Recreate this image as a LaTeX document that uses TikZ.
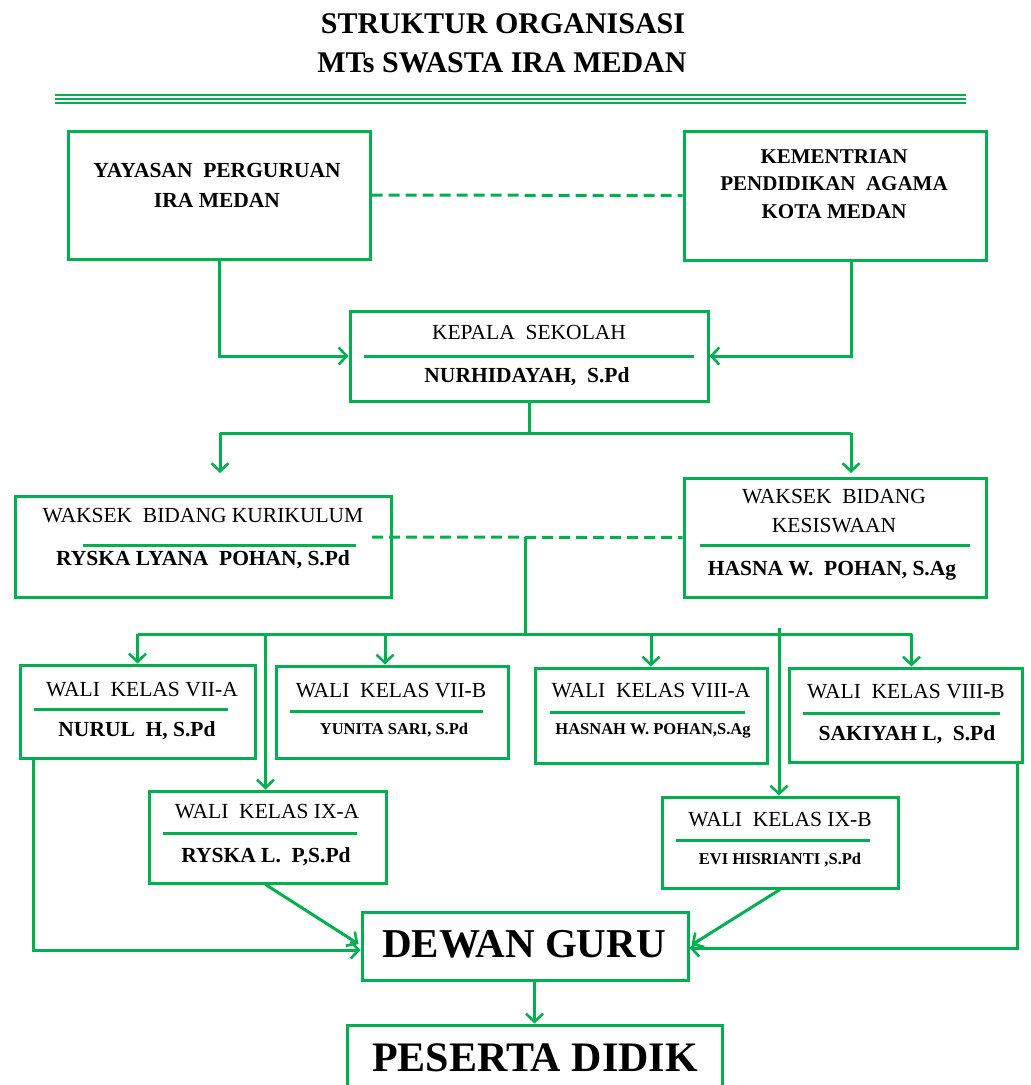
\documentclass[tikz,border=0pt]{standalone}
\usepackage{fontspec}
\setmainfont{Liberation Serif}
\usetikzlibrary{arrows.meta,calc}
\definecolor{g}{HTML}{00B050}
\begin{document}
\begin{tikzpicture}[x=1pt,y=-1pt,
  box/.style={draw=g,line width=3pt,inner sep=0pt,rectangle},
  conn/.style={draw=g,line width=3pt},
  arr/.style={conn,-{Straight Barb[length=8pt,width=17pt,line width=2.6pt]}},
  dashline/.style={conn,dash pattern=on 11pt off 6pt},
  divider/.style={draw=g,line width=3pt},
  ttl/.style={font=\bfseries\fontsize{30}{40}\selectfont,inner sep=0pt},
  rt/.style={font=\fontsize{21.5}{28}\selectfont,inner sep=0pt,align=center},
  bt/.style={font=\bfseries\fontsize{21.5}{28}\selectfont,inner sep=0pt,align=center},
  bs/.style={font=\bfseries\fontsize{16.5}{18}\selectfont,inner sep=0pt,align=center},
  big/.style={inner sep=0pt}]
\useasboundingbox (0,0) rectangle (1031,1085);
% title
\node[ttl] (t1) at (503,24) {STRUKTUR ORGANISASI};
\node[ttl] (t2) at (502,63) {MTs SWASTA IRA MEDAN};
\foreach \yy in {95,99,103} \draw[g,line width=2pt] (55,\yy) -- (966,\yy);
% boxes
\node[box,minimum width=302pt,minimum height=128pt] (Y) at (219,195) {};
\node[box,minimum width=302pt,minimum height=129pt] (M) at (835,195.5) {};
\node[box,minimum width=358pt,minimum height=90pt] (K) at (529,356) {};
\node[box,minimum width=376pt,minimum height=101pt] (WK) at (203,546.5) {};
\node[box,minimum width=302pt,minimum height=119pt] (WS) at (835,537.5) {};
\node[box,minimum width=235pt,minimum height=93pt] (W1) at (137.5,711.5) {};
\node[box,minimum width=232pt,minimum height=92pt] (W2) at (392,712) {};
\node[box,minimum width=232pt,minimum height=95pt] (W3) at (651,715.5) {};
\node[box,minimum width=233pt,minimum height=94pt] (W4) at (905.5,715) {};
\node[box,minimum width=237pt,minimum height=92pt] (IXA) at (267.5,837) {};
\node[box,minimum width=236pt,minimum height=91pt] (IXB) at (780,842.5) {};
\node[box,minimum width=326pt,minimum height=68pt] (D) at (525,946) {};
\node[box,minimum width=375pt,minimum height=75pt] (P) at (534.5,1062.5) {};
% texts
\node[bt,font=\bfseries\fontsize{21.5}{30}\selectfont] (Yt) at (217,185) {YAYASAN\ \ PERGURUAN\\IRA MEDAN};
\node[bt,font=\bfseries\fontsize{21}{27.5}\selectfont] (Mt) at (834,184) {KEMENTRIAN\\PENDIDIKAN\ \ AGAMA\\KOTA MEDAN};
\node[rt] (Kt1) at (529,332) {KEPALA\ \ SEKOLAH};
\node[bt] (Kt2) at (527,377) {NURHIDAYAH,\ \ S.Pd};
\node[rt] (WKt1) at (203,516) {WAKSEK\ \ BIDANG KURIKULUM};
\node[bt] (WKt2) at (203,560) {RYSKA LYANA\ \ POHAN, S.Pd};
\node[rt,font=\fontsize{21.5}{29}\selectfont] (WSt1) at (834,511.5) {WAKSEK\ \ BIDANG\\KESISWAAN};
\node[bt] (WSt2) at (832,571) {HASNA W.\ \ POHAN, S.Ag};
\node[rt] (W1t1) at (142,690) {WALI\ \ KELAS VII-A};
\node[bt] (W1t2) at (137,731) {NURUL\ \ H, S.Pd};
\node[rt] (W2t1) at (391,691) {WALI\ \ KELAS VII-B};
\node[bs] (W2t2) at (394,730) {YUNITA SARI, S.Pd};
\node[rt] (W3t1) at (651,691) {WALI\ \ KELAS VIII-A};
\node[bs] (W3t2) at (653,731) {HASNAH W. POHAN,S.Ag};
\node[rt] (W4t1) at (906,692) {WALI\ \ KELAS VIII-B};
\node[bt] (W4t2) at (907,735) {SAKIYAH L,\ \ S.Pd};
\node[rt] (IXAt1) at (267,812) {WALI\ \ KELAS IX-A};
\node[bt] (IXAt2) at (266,857) {RYSKA L.\ \ P,S.Pd};
\node[rt] (IXBt1) at (780,820) {WALI\ \ KELAS IX-B};
\node[bs] (IXBt2) at (780,860) {EVI HISRIANTI ,S.Pd};
\node[big,font=\bfseries\fontsize{41}{44}\selectfont] (Dt) at (524,944) {DEWAN GURU};
\node[big,font=\bfseries\fontsize{42}{46}\selectfont] (Pt) at (535,1058) {PESERTA DIDIK};
% dividers
\draw[divider] (364,356) -- (694,356);
\draw[divider] (83,545) -- (356,545);
\draw[divider] (700,545) -- (970,545);
\draw[divider] (34,709) -- (228,709);
\draw[divider] (290,711) -- (483,711);
\draw[divider] (550,712) -- (745,712);
\draw[divider] (803,713) -- (1000,713);
\draw[divider] (163,833) -- (357,833);
\draw[divider] (676,840) -- (870,840);
% connectors
\draw[dashline] (Y.east) -- (M.west);
\draw[arr] (Y.south) |- (K.west);
\draw[arr] ($(M.south)+(16,0)$) |- (K.east);
\coordinate (kb) at (528,433);
\coordinate (a1) at (220,473);
\coordinate (a2) at (851,473);
\draw[conn] (K.south) -- (K.south |- kb);
\draw[conn] (a1 |- kb) -- (a2 |- kb);
\draw[arr] (a1 |- kb) -- (a1);
\draw[arr] (a2 |- kb) -- (a2);
\coordinate (dl) at (372,537);
\draw[dashline] (dl) -- (WS.west);
\coordinate (v0) at (525,537);
\coordinate (bus) at (525,634);
\draw[conn] (v0) -- (bus);
\draw[conn] (W1.north |- bus) -- (912,634);
\draw[arr] (W1.north |- bus) -- (W1.north);
\draw[arr] ($(W2.north |- bus)+(-7,0)$) -- ($(W2.north)+(-7,0)$);
\draw[arr] (W3.north |- bus) -- (W3.north);
\draw[arr] ($(W4.north |- bus)+(6,0)$) -- ($(W4.north)+(6,0)$);
\draw[arr] ($(IXA.north |- bus)+(-2,0)$) -- ($(IXA.north)+(-2,0)$);
\draw[arr] ($(IXB.north |- bus)+(-1,-6)$) -- ($(IXB.north)+(-1,0)$);
\draw[arr] ($(W1.south west)+(15,0)$) |- ($(D.west)+(0,4)$);
\draw[arr] ($(W4.south east)+(-6,0)$) |- ($(D.east)+(0,2)$);
\draw[arr] ($(IXA.south)+(-2,0)$) -- ($(D.west)+(-2,-2)$);
\draw[arr] ($(IXB.south)+(0,0)$) -- ($(D.east)+(2,-1)$);
\draw[arr] (P.north |- D.south) -- (P.north);
\end{tikzpicture}
\end{document}
